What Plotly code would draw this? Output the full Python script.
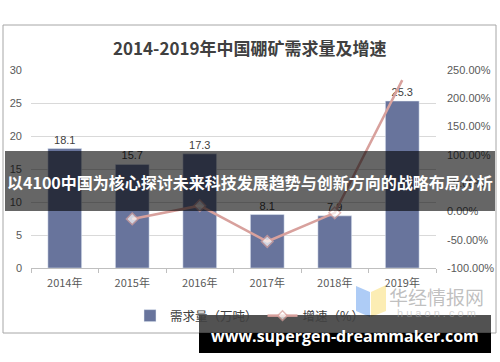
import plotly.graph_objects as go

years = ["2014年", "2015年", "2016年", "2017年", "2018年", "2019年"]
demand = [18.1, 15.7, 17.3, 8.1, 7.9, 25.3]
growth = [None, -13.26, 10.19, -53.18, -2.47, 232.0]
left_ticks = [0, 5, 10, 15, 20, 25, 30]
right_ticks = [-100, -50, 0, 50, 100, 150, 200, 250]

W, H = 500, 362
L, R, T, B = 31, 64, 70, 94
PW, PH = W - L - R, H - T - B


def px(x):
    return (x - L) / PW


def py(y):
    return (H - B - y) / PH


fig = go.Figure()
fig.add_trace(go.Bar(
    x=years, y=demand, name="需求量（万吨）",
    marker=dict(color="#68749c"), width=0.5,
    text=[f"{v}" for v in demand], textposition="outside",
    textfont=dict(size=11, color="#404040", family="Liberation Sans, Arial"),
    cliponaxis=False,
))
fig.add_trace(go.Scatter(
    x=years, y=growth, name="增速（%）", yaxis="y2",
    mode="lines+markers",
    line=dict(color="#d8a19d", width=2.5),
    marker=dict(symbol="diamond", size=[9, 9, 9, 9, 9, 0], color="white",
                line=dict(color="#d8a19d", width=1.5)),
    cliponaxis=False,
))

font_axis = dict(size=11, color="#595959", family="Liberation Sans, Arial")

fig.update_layout(
    width=W, height=H,
    margin=dict(l=L, r=R, t=T, b=B, autoexpand=False),
    paper_bgcolor="white", plot_bgcolor="white",
    showlegend=True,
    legend=dict(orientation="h", x=px(250), xanchor="center", y=py(316), yanchor="middle",
                font=dict(size=12.5, color="#404040", family="Noto Sans CJK SC"),
                traceorder="normal", bgcolor="rgba(0,0,0,0)"),
    bargap=0.5,
    xaxis=dict(type="category", showgrid=False, ticks="outside", tickson="boundaries",
               ticklen=4, tickcolor="#bfbfbf", showline=True, linecolor="#bfbfbf",
               tickfont=dict(size=11, color="#595959", family="Noto Sans CJK SC"),
               ticklabelstandoff=5, automargin=False),
    yaxis=dict(range=[0, 30], tickvals=left_ticks, showgrid=True, gridcolor="#d9d9d9",
               gridwidth=1, zeroline=False, tickfont=font_axis, ticks="",
               ticklabelstandoff=8, showline=False, automargin=False),
    yaxis2=dict(range=[-100, 250], tickvals=right_ticks,
                ticktext=[f"{v:.2f}%" for v in right_ticks],
                overlaying="y", side="right", showgrid=False, zeroline=False,
                tickfont=font_axis, ticks="", ticklabelstandoff=10, automargin=False),
)

shapes = []
# outer chart border
shapes.append(dict(type="rect", xref="paper", yref="paper",
                   x0=px(3), x1=px(496), y0=py(25), y1=py(333),
                   line=dict(color="#a6a6a6", width=1), layer="below"))
# watermark logo
shapes.append(dict(type="path", xref="paper", yref="paper",
                   path=f"M {px(356)} {py(286)} L {px(370)} {py(292)} L {px(370)} {py(317)} L {px(356)} {py(311)} Z",
                   fillcolor="rgba(120,170,240,0.6)", line=dict(width=0)))
shapes.append(dict(type="path", xref="paper", yref="paper",
                   path=f"M {px(371)} {py(292)} L {px(386)} {py(285)} L {px(386)} {py(311)} L {px(371)} {py(317)} Z",
                   fillcolor="rgba(250,225,130,0.6)", line=dict(width=0)))
# top dark banner
shapes.append(dict(type="rect", xref="paper", yref="paper",
                   x0=px(5), x1=px(495), y0=py(151), y1=py(211),
                   fillcolor="rgba(0,0,0,0.6)", line=dict(width=0), layer="above"))
# bottom banner
shapes.append(dict(type="rect", xref="paper", yref="paper",
                   x0=px(199), x1=px(491), y0=py(315), y1=py(333),
                   fillcolor="rgba(0,0,0,0.68)", line=dict(width=0), layer="above"))
shapes.append(dict(type="rect", xref="paper", yref="paper",
                   x0=px(199), x1=px(491), y0=py(333), y1=py(353),
                   fillcolor="black", line=dict(width=0), layer="above"))
fig.update_layout(shapes=shapes)


def note(text, x, y, size, color, family):
    return dict(text=text, x=px(x), y=py(y), xref="paper", yref="paper",
                xanchor="center", yanchor="middle", showarrow=False,
                font=dict(size=size, color=color, family=family))


annotations = [
    note("<b>2014-2019年中国硼矿需求量及增速</b>", 250, 47, 17, "#404040", "Noto Sans CJK SC"),
    note("华经情报网", 436, 296, 19, "rgba(150,150,150,0.6)", "Noto Sans CJK SC"),
    note("h u a o n . c o m", 436, 313, 11, "rgba(170,170,170,0.5)", "Liberation Sans"),
    note("<b>以4100中国为核心探讨未来科技发展趋势与创新方向的战略布局分析</b>", 250, 182, 16,
         "white", "Noto Sans CJK SC"),
    note("<b>www.supergen-dreammaker.com</b>", 345, 336, 16, "white", "Open Sans"),
]
fig.update_layout(annotations=annotations)

fig.write_html("out.html", config={"displayModeBar": False},
               post_script="document.body.style.margin='0';document.body.style.padding='0';")
